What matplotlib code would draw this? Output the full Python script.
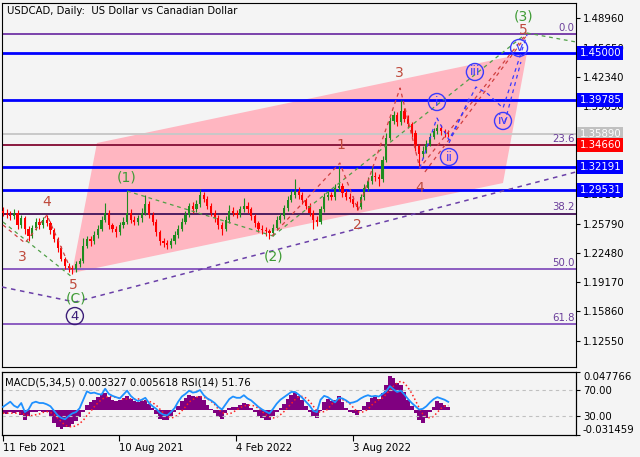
import matplotlib
matplotlib.use("Agg")
import matplotlib.pyplot as plt
from matplotlib.patches import Polygon
import numpy as np

# === DATA: USDCAD, one candle per ~4 trading days from 11 Feb 2021 ===
open_first = 1.2720
closes = [1.2700, 1.2680, 1.2660, 1.2700, 1.2560, 1.2640, 1.2520, 1.2440, 1.2530, 1.2600,
          1.2560, 1.2620, 1.2580, 1.2500, 1.2400, 1.2300, 1.2180, 1.2100, 1.2080, 1.2060,
          1.2120, 1.2150, 1.2330, 1.2400, 1.2380, 1.2450, 1.2520, 1.2620, 1.2700, 1.2560,
          1.2520, 1.2480, 1.2560, 1.2600, 1.2700, 1.2620, 1.2600, 1.2640, 1.2700, 1.2800,
          1.2680, 1.2600, 1.2480, 1.2380, 1.2360, 1.2340, 1.2380, 1.2450, 1.2520, 1.2600,
          1.2680, 1.2780, 1.2740, 1.2800, 1.2900, 1.2860, 1.2780, 1.2700, 1.2640, 1.2560,
          1.2520, 1.2620, 1.2720, 1.2700, 1.2680, 1.2740, 1.2780, 1.2740, 1.2660, 1.2580,
          1.2520, 1.2500, 1.2490, 1.2470, 1.2530, 1.2620, 1.2660, 1.2750, 1.2850, 1.2900,
          1.2950, 1.2900, 1.2840, 1.2780, 1.2700, 1.2620, 1.2600, 1.2740, 1.2880, 1.2900,
          1.2880, 1.2980, 1.3000, 1.2920, 1.2880, 1.2860, 1.2800, 1.2760, 1.2880, 1.2980,
          1.3060, 1.3120, 1.3100, 1.3080, 1.3300, 1.3550, 1.3740, 1.3800, 1.3720, 1.3850,
          1.3760, 1.3700, 1.3600, 1.3450, 1.3360, 1.3400, 1.3480, 1.3560, 1.3620, 1.3660,
          1.3620, 1.3600, 1.3589]
highs = [1.2760, 1.2740, 1.2720, 1.2740, 1.2730, 1.2680, 1.2660, 1.2550, 1.2560, 1.2640,
         1.2640, 1.2650, 1.2680, 1.2610, 1.2530, 1.2430, 1.2320, 1.2200, 1.2130, 1.2110,
         1.2150, 1.2190, 1.2420, 1.2440, 1.2440, 1.2490, 1.2560, 1.2660, 1.2810, 1.2730,
         1.2590, 1.2550, 1.2600, 1.2650, 1.2950, 1.2740, 1.2660, 1.2680, 1.2750, 1.2900,
         1.2830, 1.2710, 1.2630, 1.2510, 1.2420, 1.2390, 1.2420, 1.2490, 1.2560, 1.2640,
         1.2720, 1.2810, 1.2820, 1.2850, 1.2964, 1.2930, 1.2890, 1.2810, 1.2730, 1.2670,
         1.2600, 1.2660, 1.2790, 1.2760, 1.2730, 1.2780, 1.2871, 1.2820, 1.2770, 1.2690,
         1.2610, 1.2560, 1.2540, 1.2520, 1.2570, 1.2660, 1.2700, 1.2790, 1.2890, 1.2960,
         1.3077, 1.2990, 1.2930, 1.2870, 1.2810, 1.2730, 1.2660, 1.2780, 1.2920, 1.2950,
         1.2940, 1.3020, 1.3224, 1.3040, 1.2960, 1.2920, 1.2890, 1.2830, 1.2910, 1.3020,
         1.3100, 1.3217, 1.3160, 1.3140, 1.3340, 1.3600, 1.3780, 1.3850, 1.3840, 1.3977,
         1.3880, 1.3800, 1.3730, 1.3630, 1.3480, 1.3450, 1.3520, 1.3600, 1.3660, 1.3705,
         1.3690, 1.3650, 1.3640]
lows = [1.2660, 1.2640, 1.2620, 1.2630, 1.2520, 1.2530, 1.2460, 1.2380, 1.2420, 1.2500,
        1.2520, 1.2530, 1.2550, 1.2460, 1.2370, 1.2260, 1.2150, 1.2070, 1.2030, 1.2010,
        1.2030, 1.2090, 1.2130, 1.2300, 1.2330, 1.2350, 1.2420, 1.2490, 1.2600, 1.2520,
        1.2480, 1.2430, 1.2450, 1.2530, 1.2570, 1.2580, 1.2560, 1.2560, 1.2600, 1.2670,
        1.2640, 1.2560, 1.2440, 1.2340, 1.2310, 1.2290, 1.2300, 1.2350, 1.2420, 1.2490,
        1.2570, 1.2650, 1.2700, 1.2710, 1.2770, 1.2820, 1.2740, 1.2660, 1.2600, 1.2520,
        1.2450, 1.2490, 1.2590, 1.2660, 1.2640, 1.2650, 1.2710, 1.2700, 1.2620, 1.2540,
        1.2480, 1.2460, 1.2440, 1.2403, 1.2440, 1.2500, 1.2590, 1.2630, 1.2720, 1.2820,
        1.2870, 1.2860, 1.2800, 1.2740, 1.2660, 1.2518, 1.2550, 1.2570, 1.2710, 1.2840,
        1.2840, 1.2850, 1.2950, 1.2880, 1.2840, 1.2820, 1.2760, 1.2728, 1.2740, 1.2850,
        1.2950, 1.3030, 1.3060, 1.3000, 1.3050, 1.3270, 1.3520, 1.3700, 1.3680, 1.3690,
        1.3720, 1.3660, 1.3560, 1.3400, 1.3226, 1.3320, 1.3370, 1.3450, 1.3530, 1.3590,
        1.3580, 1.3560, 1.3560]

macd = [-0.004, -0.005, -0.003, -0.004, -0.002, -0.006, -0.013, -0.008, -0.003, -0.002,
        -0.001, -0.002, -0.003, -0.008, -0.016, -0.022, -0.024, -0.022, -0.021, -0.018,
        -0.014, -0.009, -0.002, 0.006, 0.010, 0.013, 0.016, 0.020, 0.021, 0.016,
        0.013, 0.011, 0.012, 0.015, 0.018, 0.014, 0.011, 0.010, 0.011, 0.013,
        0.008, 0.002, -0.005, -0.011, -0.013, -0.012, -0.008, -0.002, 0.005, 0.011,
        0.015, 0.019, 0.017, 0.016, 0.018, 0.012, 0.006, 0.001, -0.004, -0.009,
        -0.011, -0.004, 0.003, 0.004, 0.004, 0.006, 0.009, 0.008, 0.003, -0.003,
        -0.007, -0.010, -0.012, -0.013, -0.008, -0.002, 0.003, 0.008, 0.014, 0.019,
        0.022, 0.018, 0.012, 0.005, -0.002, -0.008, -0.010, -0.001, 0.010, 0.014,
        0.011, 0.012, 0.018, 0.010, 0.003, -0.002, -0.004, -0.006, -0.001, 0.005,
        0.010, 0.015, 0.016, 0.014, 0.021, 0.031, 0.043, 0.040, 0.034, 0.032,
        0.022, 0.013, 0.005, -0.004, -0.012, -0.016, -0.010, -0.002, 0.004, 0.011,
        0.009, 0.006, 0.003327]
signal = [-0.004, -0.004, -0.004, -0.004, -0.004, -0.004, -0.006, -0.007, -0.007, -0.006,
          -0.005, -0.003, -0.002, -0.003, -0.006, -0.010, -0.015, -0.019, -0.021, -0.021,
          -0.020, -0.017, -0.013, -0.007, -0.002, 0.004, 0.009, 0.013, 0.016, 0.017,
          0.017, 0.016, 0.015, 0.013, 0.014, 0.014, 0.014, 0.014, 0.013, 0.012,
          0.011, 0.009, 0.006, 0.001, -0.004, -0.008, -0.010, -0.009, -0.006, -0.001,
          0.004, 0.010, 0.013, 0.016, 0.017, 0.016, 0.014, 0.011, 0.007, 0.001,
          -0.003, -0.005, -0.005, -0.003, 0.000, 0.003, 0.005, 0.006, 0.006, 0.005,
          0.002, -0.002, -0.006, -0.009, -0.010, -0.009, -0.006, -0.002, 0.003, 0.008,
          0.013, 0.017, 0.017, 0.015, 0.011, 0.005, -0.001, -0.003, -0.002, 0.001,
          0.007, 0.011, 0.013, 0.013, 0.011, 0.008, 0.003, -0.002, -0.003, -0.002,
          0.001, 0.006, 0.010, 0.013, 0.015, 0.020, 0.025, 0.030, 0.034, 0.036,
          0.034, 0.028, 0.021, 0.012, 0.003, -0.005, -0.009, -0.010, -0.008, -0.003,
          0.002, 0.005, 0.005618]
rsi = [44, 48, 52, 46, 43, 50, 36, 40, 50, 52, 50, 50, 48, 45, 38, 31, 27, 25, 30, 34,
       36, 42, 55, 68, 65, 66, 64, 63, 72, 64, 61, 59, 57, 63, 69, 61, 56, 53, 55, 58,
       50, 45, 41, 35, 32, 31, 36, 42, 52, 60, 64, 69, 66, 67, 70, 62, 57, 54, 50, 44,
       40, 48, 56, 60, 58, 58, 62, 57, 54, 49, 44, 40, 37, 34, 41, 49, 55, 59, 63, 67,
       67, 63, 58, 52, 46, 38, 36, 55, 61, 59, 55, 51, 58, 57, 54, 50, 51, 53, 57, 60,
       62, 60, 61, 60, 64, 68, 76, 71, 67, 69, 63, 56, 50, 45, 40, 41, 45, 51, 56, 59,
       57, 55, 51.76]

date_ticks = [0, 31.8, 63.8, 95.9]
date_labels = ["11 Feb 2021", "10 Aug 2021", "4 Feb 2022", "3 Aug 2022"]
# scale labels (those fully under price boxes are not shown)
price_ticks = [1.4896, 1.4565, 1.4234, 1.3903, 1.2910,
               1.2579, 1.2248, 1.1917, 1.1586, 1.1255]

blue_levels = [1.45, 1.39785, 1.32191, 1.29531]
fib_levels = [1.4719, 1.3466, 1.2691, 1.2065, 1.1439]
fib_names = ["0.0", "23.6", "38.2", "50.0", "61.8"]
fib_colors = ["#7a42aa", "#8b1a40", "#4e1f62", "#8c5cc0", "#8c5cc0"]
last_price = 1.3589

# channel (bar, price)
channel_x = [25.75, 143.56, 136.99, 18.90]
channel_y = [1.3488, 1.4504, 1.3036, 1.2020]

# wave paths (bar, price)
trend_x, trend_y = [-0.27, 19.73, 157.0], [1.1862, 1.1692, 1.3161]
green_paths = [([0, 18.9], [1.2596, 1.1975]),
               ([33.97, 73.97], [1.2946, 1.2438]),
               ([73.97, 143.56], [1.2438, 1.4730]),
               ([143.56, 157.0], [1.4730, 1.4629])]
red_paths = [([0, 6.03, 12.05, 18.9], [1.2562, 1.2359, 1.2675, 1.2031]),
             ([73.7, 92.3, 97.3, 108.8, 114.2, 143.56],
              [1.2438, 1.3262, 1.2731, 1.4109, 1.3206, 1.4730]),
             ([115.6, 143.56], [1.3161, 1.4708])]
blue_paths = [([114.2, 118.9, 122.2, 129.6, 132.9, 137.0, 143.56],
               [1.3206, 1.3770, 1.3522, 1.4121, 1.4041, 1.3883, 1.4708]),
              ([122.2, 127.9], [1.3488, 1.4008]),
              ([137.5, 141.9], [1.3725, 1.4403])]

green_labels = [("(1)", 34.0, 1.3104), ("(2)", 74.0, 1.2212), ("(3)", 142.5, 1.4911), ("(C)", 20.0, 1.1728)]
red_labels = [("3", 5.2, 1.2201), ("4", 12.05, 1.2822), ("5", 19.2, 1.1890),
              ("1", 92.6, 1.3465), ("2", 97.0, 1.2562), ("3", 108.5, 1.4279),
              ("4", 114.2, 1.2980), ("5", 142.7, 1.4764)]
blue_circles = [("i", 118.9, 1.3951), ("ii", 122.2, 1.3330), ("iii", 129.3, 1.4290),
                ("iv", 137.0, 1.3737), ("v", 141.4, 1.4561)]

BG = "#f4f4f4"
GREEN = "#3f9b35"
RED = "#bf4a3c"
BLUE = "#0000ff"
FS = 7.3

fig = plt.figure(figsize=(6.4, 4.57), dpi=100, facecolor=BG)
ax = fig.add_axes([2 / 640, 1 - 367 / 457, 574 / 640, 364 / 457], facecolor=BG)
ax.set_xlim(-0.27, 157.0)
ax.set_ylim(1.09585, 1.50691)

# channel
ax.add_patch(Polygon(list(zip(channel_x, channel_y)), closed=True, fc="#ffb6c1", ec="none", zorder=1))

# horizontal levels
for lv, col in zip(fib_levels, fib_colors):
    ax.axhline(lv, color=col, lw=1.4, zorder=2)
ax.axhline(last_price, color="#c8c8c8", lw=1.4, zorder=2)
for lv in blue_levels:
    ax.axhline(lv, color=BLUE, lw=2, zorder=2)

# candles
x = np.arange(len(closes))
c = np.array(closes)
o = np.array([open_first] + closes[:-1])
up = c >= o
cols = np.where(up, "#1e8c1e", "#ff0000")
ax.vlines(x, lows, highs, colors=cols, lw=0.8, zorder=4)
ax.bar(x, np.maximum(np.abs(c - o), 0.0006), bottom=np.minimum(o, c), width=0.6,
       color=cols, zorder=4)

# wave lines
ax.plot(trend_x, trend_y, color="#6a3fa8", ls=(0, (3, 3)), lw=1.1, zorder=3)
for px, py in green_paths:
    ax.plot(px, py, color="#4f9f46", ls=(0, (3, 3)), lw=0.9, zorder=5)
for px, py in red_paths:
    ax.plot(px, py, color="#d04040", ls=(0, (3, 3)), lw=0.9, zorder=5)
for px, py in blue_paths:
    ax.plot(px, py, color="#3a3aff", ls=(0, (3, 3)), lw=0.9, zorder=5)

for t, bx, py in green_labels:
    ax.text(bx, py, t, color=GREEN, fontsize=10, ha="center", va="center", zorder=6)
for t, bx, py in red_labels:
    ax.text(bx, py, t, color=RED, fontsize=10, ha="center", va="center", zorder=6)
ax.scatter([19.7], [1.1534], s=150, facecolors="none", edgecolors="#3c1e78", lw=1, zorder=6)
ax.text(19.7, 1.1534, "4", color="#3c1e78", fontsize=9.5, ha="center", va="center", zorder=6)
for t, bx, py in blue_circles:
    ax.scatter([bx], [py], s=150, facecolors="none", edgecolors="#3a3aff", lw=1, zorder=6)
    ax.text(bx, py, t, color="#3a3aff", fontsize=9, ha="center", va="center", zorder=6)

# fib labels
for lv, nm in zip(fib_levels, fib_names):
    ax.annotate(nm, xy=(1, lv), xycoords=("axes fraction", "data"), xytext=(-1, 1),
                textcoords="offset points", ha="right", va="bottom", color="#6a3d9a",
                fontsize=FS, zorder=6)

# price axis
ax.yaxis.tick_right()
ax.set_yticks(price_ticks)
ax.set_yticklabels([f"{v:.5f}" for v in price_ticks])
ax.tick_params(axis="y", direction="out", length=3, pad=2, labelsize=FS, colors="black")
ax.set_xticks([])

# price boxes
for lv in blue_levels:
    ax.annotate(f"{lv:.5f}", xy=(1, lv), xycoords=("axes fraction", "data"), xytext=(2.5, 0),
                textcoords="offset points", ha="left", va="center", color="white", fontsize=FS,
                bbox=dict(boxstyle="square,pad=0.2", fc=BLUE, ec="none"), annotation_clip=False, zorder=10)
ax.annotate(f"{last_price:.5f}", xy=(1, last_price), xycoords=("axes fraction", "data"), xytext=(2.5, 0),
            textcoords="offset points", ha="left", va="center", color="white", fontsize=FS,
            bbox=dict(boxstyle="square,pad=0.2", fc="#c0c0c0", ec="none"), annotation_clip=False, zorder=10)
ax.annotate("1.34660", xy=(1, 1.3466), xycoords=("axes fraction", "data"), xytext=(2.5, 0),
            textcoords="offset points", ha="left", va="center", color="white", fontsize=FS,
            bbox=dict(boxstyle="square,pad=0.2", fc="#ff0000", ec="none"), annotation_clip=False, zorder=10)

ax.text(0.0087, 0.978, "USDCAD, Daily:  US Dollar vs Canadian Dollar", transform=ax.transAxes,
        ha="left", va="center", fontsize=FS, color="black", zorder=7)

# === MACD / RSI panel ===
ax2 = fig.add_axes([2 / 640, 1 - 435 / 457, 574 / 640, 63 / 457], facecolor=BG)
ax2.set_xlim(-0.27, 157.0)
ax2.set_ylim(-0.031459, 0.047766)
ax2.bar(x, macd, width=1.0, color="#800080", zorder=2)
ax2.plot(x, signal, color="#ff2020", ls=":", lw=1.1, zorder=3)

rsi_ax = ax2.twinx()
rsi_ax.set_ylim(0.8, 97.7)
rsi_ax.axhline(70, color="#c0c0c0", ls=(0, (3, 3)), lw=0.8)
rsi_ax.axhline(30, color="#c0c0c0", ls=(0, (3, 3)), lw=0.8)
rsi_ax.plot(x, rsi, color="#1e90ff", lw=1.3, zorder=4)
rsi_ax.set_yticks([70, 30])
rsi_ax.set_yticklabels(["70.00", "30.00"])
rsi_ax.tick_params(axis="y", direction="out", length=3, pad=2, labelsize=FS)

# twinx moves ax2 ticks to the left, put them back on the right
ax2.yaxis.tick_right()
ax2.set_yticks([0.047766, -0.031459])
ax2.set_yticklabels(["0.047766", "-0.031459"])
ax2.tick_params(axis="y", direction="out", length=3, pad=2, labelsize=FS)
lab = ax2.get_yticklabels()
lab[0].set_va("top")
lab[1].set_va("bottom")
ax2.set_xticks(date_ticks)
ax2.set_xticklabels(date_labels, ha="left")
ax2.tick_params(axis="x", direction="out", length=4, pad=2, labelsize=FS)

ax2.text(0.005, 0.84, "MACD(5,34,5) 0.003327 0.005618 RSI(14) 51.76", transform=ax2.transAxes,
         ha="left", va="center", fontsize=FS, color="black", zorder=7)

fig.savefig("out.png", dpi=100, facecolor=BG)
